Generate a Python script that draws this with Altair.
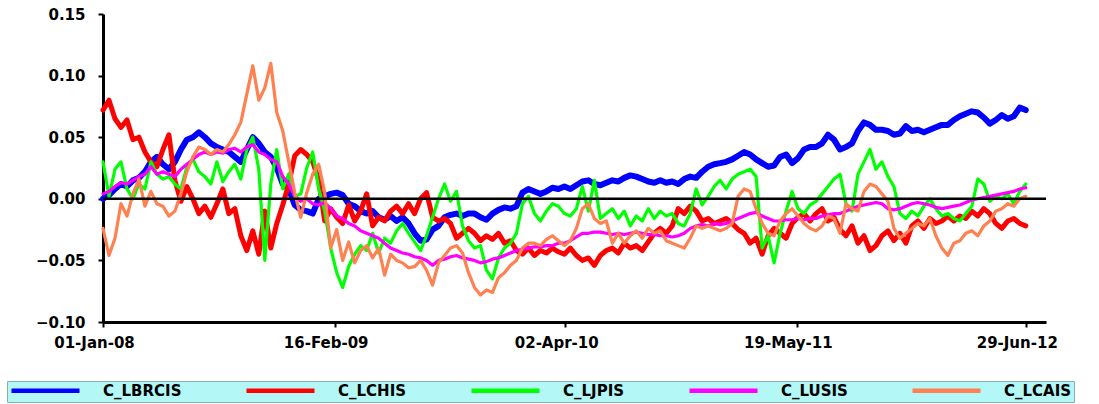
import altair as alt
import pandas as pd

# Series names in legend order, with their colours and line widths
series_names = ["C_LBRCIS", "C_LCHIS", "C_LJPIS", "C_LUSIS", "C_LCAIS"]
series_colors = ["#0000ff", "#ff0000", "#00ff00", "#ff00ff", "#ff8050"]
series_widths = [6.0, 5.0, 3.2, 3.2, 3.2]

# Observation dates: roughly every 10-11 days from 01-Jan-08 to 29-Jun-12
dates = pd.date_range("2008-01-01", "2012-06-29", periods=155)

lbrcis = [
    0.000, 0.003, 0.008, 0.012, 0.010, 0.015, 0.017, 0.022, 0.030, 0.034,
    0.028, 0.024, 0.030, 0.040, 0.048, 0.050, 0.054, 0.050, 0.045, 0.042,
    0.040, 0.038, 0.034, 0.030, 0.040, 0.050, 0.045, 0.038, 0.034, 0.025,
    0.012, 0.008, -0.005, -0.009, -0.010, -0.012, 0.000, 0.002, 0.004, 0.005,
    0.003, -0.004, -0.006, -0.010, -0.012, -0.010, -0.015, -0.017, -0.014, -0.018,
    -0.015, -0.020, -0.028, -0.034, -0.033, -0.025, -0.022, -0.015, -0.013, -0.012,
    -0.014, -0.012, -0.012, -0.015, -0.017, -0.012, -0.009, -0.007, -0.008, -0.006,
    0.005, 0.008, 0.006, 0.004, 0.006, 0.009, 0.008, 0.010, 0.008, 0.011,
    0.014, 0.015, 0.012, 0.011, 0.013, 0.015, 0.014, 0.017, 0.019, 0.018,
    0.016, 0.014, 0.013, 0.015, 0.013, 0.014, 0.012, 0.016, 0.018, 0.017,
    0.022, 0.026, 0.028, 0.029, 0.030, 0.032, 0.035, 0.038, 0.036, 0.032,
    0.029, 0.026, 0.027, 0.034, 0.036, 0.029, 0.033, 0.040, 0.042, 0.042,
    0.045, 0.052, 0.048, 0.040, 0.042, 0.045, 0.055, 0.062, 0.060, 0.056,
    0.056, 0.055, 0.052, 0.053, 0.059, 0.055, 0.056, 0.054, 0.056, 0.058,
    0.060, 0.060, 0.064, 0.067, 0.069, 0.071, 0.070, 0.066, 0.061, 0.064,
    0.068, 0.065, 0.067, 0.074, 0.072,
]

lchis = [
    0.072, 0.080, 0.065, 0.058, 0.064, 0.048, 0.050, 0.038, 0.030, 0.026,
    0.040, 0.052, 0.015, -0.002, 0.010, 0.000, -0.012, -0.006, -0.015, -0.004,
    0.008, -0.012, -0.008, -0.030, -0.042, -0.026, -0.045, -0.010, -0.040, -0.020,
    -0.005, 0.012, 0.035, 0.040, 0.036, 0.030, 0.015, -0.018, -0.008, -0.015,
    -0.020, -0.005, -0.018, -0.010, 0.004, -0.022, -0.015, -0.018, -0.010, -0.006,
    -0.012, -0.004, -0.012, 0.000, 0.005, -0.015, -0.018, -0.016, -0.020, -0.032,
    -0.028, -0.024, -0.028, -0.034, -0.030, -0.033, -0.028, -0.036, -0.034, -0.042,
    -0.045, -0.040, -0.046, -0.042, -0.044, -0.040, -0.043, -0.045, -0.040, -0.046,
    -0.050, -0.048, -0.054, -0.046, -0.042, -0.040, -0.044, -0.036, -0.040, -0.038,
    -0.042, -0.035, -0.028, -0.024, -0.028, -0.022, -0.008, -0.012, -0.006, -0.010,
    -0.018, -0.016, -0.020, -0.018, -0.016, -0.020, -0.025, -0.028, -0.036, -0.032,
    -0.045, -0.030, -0.024, -0.028, -0.032, -0.020, -0.015, -0.012, -0.018, -0.012,
    -0.008, -0.018, -0.015, -0.025, -0.030, -0.022, -0.036, -0.030, -0.042, -0.038,
    -0.030, -0.026, -0.034, -0.028, -0.036, -0.022, -0.018, -0.024, -0.016, -0.020,
    -0.018, -0.014, -0.018, -0.014, -0.016, -0.010, -0.014, -0.008, -0.012, -0.020,
    -0.024, -0.018, -0.016, -0.020, -0.022,
]

ljpis = [
    0.030, 0.002, 0.024, 0.030, 0.008, 0.000, 0.012, 0.008, 0.030, 0.020,
    0.016, 0.018, 0.012, 0.008, 0.026, 0.032, 0.022, 0.018, 0.012, 0.030,
    0.014, 0.022, 0.028, 0.016, 0.040, 0.050, 0.024, -0.050, 0.012, 0.040,
    0.008, 0.020, 0.002, 0.004, 0.025, 0.038, 0.008, -0.010, -0.040, -0.060,
    -0.072, -0.055, -0.045, -0.038, -0.042, -0.028, -0.044, -0.032, -0.036, -0.026,
    -0.020, -0.028, -0.035, -0.042, -0.030, -0.015, 0.000, 0.012, -0.002, 0.006,
    -0.022, -0.034, -0.040, -0.038, -0.058, -0.065, -0.048, -0.040, -0.036, -0.028,
    -0.004, 0.002, -0.012, -0.018, -0.010, -0.004, -0.006, -0.012, -0.014, -0.008,
    0.010, -0.010, 0.015, -0.016, -0.012, -0.008, -0.016, -0.010, -0.022, -0.014,
    -0.018, -0.008, -0.016, -0.010, -0.014, -0.012, -0.020, -0.022, -0.012, 0.008,
    -0.005, 0.002, 0.010, 0.015, 0.008, 0.016, 0.020, 0.022, 0.024, 0.018,
    -0.040, -0.030, -0.052, -0.028, -0.010, 0.006, -0.008, -0.012, -0.005, -0.002,
    0.004, 0.010, 0.016, 0.020, -0.004, -0.010, 0.020, 0.030, 0.040, 0.024,
    0.030, 0.018, 0.010, -0.012, -0.016, -0.010, -0.014, -0.006, 0.000, -0.008,
    -0.014, -0.012, -0.016, -0.018, -0.012, -0.006, 0.016, 0.012, -0.002, 0.002,
    0.000, 0.004, -0.004, 0.006, 0.012,
]

lusis = [
    0.004, 0.006, 0.010, 0.013, 0.012, 0.015, 0.018, 0.020, 0.026, 0.020,
    0.022, 0.020, 0.018, 0.024, 0.028, 0.032, 0.036, 0.038, 0.036, 0.038,
    0.037, 0.040, 0.041, 0.038, 0.042, 0.044, 0.038, 0.036, 0.032, 0.030,
    0.018, 0.012, 0.002, -0.002, 0.000, -0.004, -0.005, -0.003, -0.008, -0.014,
    -0.016, -0.020, -0.022, -0.026, -0.028, -0.030, -0.032, -0.036, -0.040, -0.042,
    -0.044, -0.045, -0.047, -0.048, -0.050, -0.054, -0.050, -0.049, -0.047, -0.046,
    -0.048, -0.049, -0.050, -0.052, -0.051, -0.049, -0.048, -0.046, -0.044, -0.042,
    -0.041, -0.040, -0.039, -0.039, -0.038, -0.038, -0.036, -0.036, -0.034, -0.031,
    -0.028, -0.028, -0.027, -0.027, -0.028, -0.029, -0.028, -0.029, -0.028, -0.027,
    -0.028, -0.029, -0.029, -0.030, -0.030, -0.031, -0.030, -0.028, -0.024, -0.022,
    -0.021, -0.022, -0.020, -0.021, -0.020, -0.018, -0.016, -0.014, -0.012, -0.011,
    -0.014, -0.016, -0.018, -0.018, -0.017, -0.017, -0.016, -0.017, -0.016, -0.016,
    -0.014, -0.013, -0.012, -0.012, -0.010, -0.008, -0.006, -0.005, -0.004, -0.003,
    -0.004, -0.008, -0.009, -0.008, -0.006, -0.004, -0.003, -0.004, -0.005, -0.007,
    -0.008, -0.007, -0.006, -0.005, -0.003, -0.001, 0.000, 0.001, 0.002, 0.003,
    0.004, 0.005, 0.006, 0.008, 0.009,
]

lcais = [
    -0.024, -0.046, -0.032, -0.004, -0.014, 0.004, 0.016, -0.006, 0.006, -0.004,
    -0.006, -0.014, -0.010, 0.004, 0.022, 0.034, 0.042, 0.040, 0.036, 0.040,
    0.038, 0.044, 0.052, 0.062, 0.085, 0.108, 0.080, 0.090, 0.110, 0.070,
    0.055, 0.030, 0.005, -0.015, 0.005, 0.020, 0.028, 0.005, -0.040, -0.025,
    -0.050, -0.035, -0.052, -0.042, -0.038, -0.048, -0.040, -0.062, -0.045, -0.050,
    -0.052, -0.056, -0.055, -0.050, -0.058, -0.070, -0.052, -0.046, -0.040, -0.038,
    -0.044, -0.060, -0.072, -0.078, -0.074, -0.076, -0.064, -0.060, -0.054, -0.050,
    -0.040, -0.036, -0.036, -0.038, -0.033, -0.030, -0.034, -0.038, -0.034, -0.024,
    -0.008, -0.004, -0.016, -0.020, -0.018, -0.036, -0.028, -0.036, -0.030, -0.026,
    -0.032, -0.024, -0.028, -0.026, -0.034, -0.036, -0.038, -0.040, -0.032, -0.022,
    -0.024, -0.022, -0.024, -0.026, -0.024, -0.020, 0.002, 0.008, 0.006, -0.008,
    -0.020, -0.028, -0.030, -0.018, -0.012, -0.008, -0.014, -0.020, -0.024, -0.026,
    -0.022, -0.014, -0.016, -0.028, -0.004, -0.008, -0.010, 0.006, 0.012, 0.010,
    0.004, -0.002, -0.024, -0.032, -0.028, -0.024, -0.020, -0.022, -0.016, -0.030,
    -0.040, -0.046, -0.036, -0.034, -0.028, -0.026, -0.030, -0.022, -0.018, -0.010,
    -0.008, -0.004, -0.006, 0.000, 0.002,
]

values = [lbrcis, lchis, ljpis, lusis, lcais]
frames = [
    pd.DataFrame({"date": dates, "value": v, "series": name})
    for name, v in zip(series_names, values)
]
data = pd.concat(frames, ignore_index=True)

# Labelled x ticks
tick_dates = [
    alt.DateTime(year=2008, month=1, date=1),
    alt.DateTime(year=2009, month=2, date=16),
    alt.DateTime(year=2010, month=4, date=2),
    alt.DateTime(year=2011, month=5, date=19),
    alt.DateTime(year=2012, month=6, date=29),
]
y_ticks = [-0.1, -0.075, -0.05, -0.025, 0.0, 0.025, 0.05, 0.075, 0.1, 0.125, 0.15]

x_enc = alt.X(
    "date:T",
    title=None,
    scale=alt.Scale(
        domain=[alt.DateTime(year=2008, month=1, date=1),
                alt.DateTime(year=2012, month=8, date=4)],
        nice=False,
    ),
    axis=alt.Axis(
        values=tick_dates, format="%d-%b-%y", labelAlign="center",
        labelOffset=-9, tickSize=5, labelPadding=8, grid=False,
    ),
)
y_enc = alt.Y(
    "value:Q",
    title=None,
    scale=alt.Scale(domain=[-0.1, 0.15], nice=False, zero=False),
    axis=alt.Axis(
        values=y_ticks,
        labelExpr="abs(round(datum.value * 40)) % 2 == 0 ? format(datum.value, '.2f') : ''",
        tickSize=5, labelPadding=13, grid=False,
    ),
)

# Legend swatch: a long stroke running to the right of a small symbol,
# so the entry row stays only as tall as its label.
legend = alt.Legend(
    title=None, orient="none", legendX=-96, legendY=367,
    direction="horizontal", columns=5, gridAlign="each",
    symbolType="M-1,0H12.6", symbolSize=100, symbolStrokeWidth=4.5,
    labelOffset=79, columnPadding=55, padding=2,
    fillColor="#b3f7f7", strokeColor="#8aaeae",
    labelFont="DejaVu Sans", labelFontWeight="bold", labelFontSize=15,
    labelColor="black",
)
color_scale = alt.Scale(domain=series_names, range=series_colors)

layers = []
for name, width in zip(series_names, series_widths):
    layers.append(
        alt.Chart(data)
        .transform_filter(alt.datum.series == name)
        .mark_line(strokeWidth=width, strokeJoin="round", strokeCap="round")
        .encode(
            x=x_enc,
            y=y_enc,
            color=alt.Color("series:N", scale=color_scale, legend=legend),
        )
    )

zero_line = (
    alt.Chart(pd.DataFrame({"value": [0.0]}))
    .mark_rule(color="black", strokeWidth=2.5)
    .encode(y=alt.Y("value:Q"))
)

chart = (
    alt.layer(*layers, zero_line)
    .properties(
        width=943, height=308,
        autosize=alt.AutoSizeParams(type="none"),
        padding={"left": 103, "top": 14, "right": 53, "bottom": 82},
    )
    .configure_view(stroke=None)
    .configure_axis(
        domainColor="black", domainWidth=3, tickColor="black", tickWidth=2,
        labelFont="DejaVu Sans", labelFontWeight="bold", labelFontSize=15,
        labelColor="black",
    )
)

chart.save("out.html", embed_options={"renderer": "svg", "actions": False})
